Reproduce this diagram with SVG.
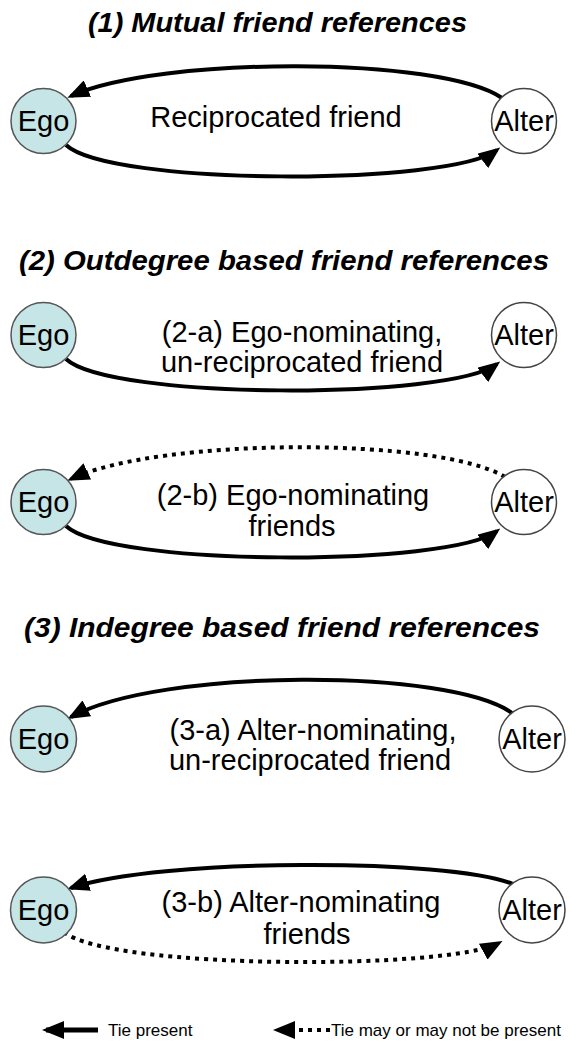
<svg xmlns="http://www.w3.org/2000/svg" width="581" height="1050" viewBox="0 0 581 1050">
<defs>
<style>
.title{font-family:"Liberation Sans",Arial,sans-serif;font-weight:bold;font-style:italic;font-size:27px;fill:#000}
.lbl{font-family:"Liberation Sans",Arial,sans-serif;font-size:29px;fill:#000;text-anchor:middle}
.nt{font-family:"Liberation Sans",Arial,sans-serif;font-size:29px;fill:#000;text-anchor:middle}
.leg{font-family:"Liberation Sans",Arial,sans-serif;font-size:17px;fill:#000}
.ego{fill:#c6e5e6;stroke:#555;stroke-width:1.5}
.alter{fill:#fff;stroke:#444;stroke-width:1.5}
.solid{fill:none;stroke:#000;stroke-width:4;marker-end:url(#ah)}
.dot{fill:none;stroke:#000;stroke-width:4;stroke-dasharray:4 5;marker-end:url(#ah)}
</style>
<marker id="ah" viewBox="0 0 22 18" refX="18" refY="9" markerWidth="22" markerHeight="18" markerUnits="userSpaceOnUse" orient="auto">
<path d="M0,0 L22,9 L0,18 z" fill="#000" stroke="none"/>
</marker>
</defs>
<rect width="581" height="1050" fill="#fff"/>

<g id="titles">
<text class="title" x="88" y="32" textLength="379" lengthAdjust="spacingAndGlyphs">(1) Mutual friend references</text>
<text class="title" x="19" y="270" textLength="530" lengthAdjust="spacingAndGlyphs">(2) Outdegree based friend references</text>
<text class="title" x="24" y="637" textLength="516" lengthAdjust="spacingAndGlyphs">(3) Indegree based friend references</text>
</g>

<g id="connectors">
<path class="solid" d="M 502 98 C 440 56, 160 56, 71 96"/>
<path class="solid" d="M 66 145 C 110 186, 450 186, 497 150"/>
<path class="solid" d="M 66 359 C 110 400, 450 400, 497 364"/>
<path class="dot" d="M 505 477 C 440 437, 160 437, 71 479"/>
<path class="solid" d="M 66 526 C 110 567, 450 567, 497 531"/>
<path class="solid" d="M 512 713 C 450 668, 160 668, 71 717"/>
<path class="solid" d="M 513 884 C 450 858, 160 858, 71 888"/>
<path class="dot" d="M 64 932 C 110 970, 450 970, 499 943"/>
</g>

<g id="labels">
<text class="lbl" x="276" y="127">Reciprocated friend</text>
<text class="lbl" x="302" y="342">(2-a) Ego-nominating,</text>
<text class="lbl" x="302" y="372">un-reciprocated friend</text>
<text class="lbl" x="293" y="505">(2-b) Ego-nominating</text>
<text class="lbl" x="292" y="536">friends</text>
<text class="lbl" x="313" y="740">(3-a) Alter-nominating,</text>
<text class="lbl" x="310" y="770">un-reciprocated friend</text>
<text class="lbl" x="301" y="912">(3-b) Alter-nominating</text>
<text class="lbl" x="307" y="944">friends</text>
</g>

<g id="ego1"><circle class="ego" cx="43.5" cy="121" r="32.5"/><text class="nt" x="43.5" y="131">Ego</text></g>
<g id="alter1"><circle class="alter" cx="524" cy="121" r="32.5"/><text class="nt" x="524" y="131">Alter</text></g>
<g id="ego2a"><circle class="ego" cx="43.5" cy="335" r="32.5"/><text class="nt" x="43.5" y="345">Ego</text></g>
<g id="alter2a"><circle class="alter" cx="524" cy="335" r="32.5"/><text class="nt" x="524" y="345">Alter</text></g>
<g id="ego2b"><circle class="ego" cx="43.5" cy="502" r="32.5"/><text class="nt" x="43.5" y="512">Ego</text></g>
<g id="alter2b"><circle class="alter" cx="524" cy="502" r="32.5"/><text class="nt" x="524" y="512">Alter</text></g>
<g id="ego3a"><circle class="ego" cx="43.5" cy="739" r="33"/><text class="nt" x="43.5" y="749">Ego</text></g>
<g id="alter3a"><circle class="alter" cx="532" cy="739" r="33"/><text class="nt" x="532" y="749">Alter</text></g>
<g id="ego3b"><circle class="ego" cx="43.5" cy="910" r="33"/><text class="nt" x="43.5" y="920">Ego</text></g>
<g id="alter3b"><circle class="alter" cx="532" cy="910" r="33"/><text class="nt" x="532" y="920">Alter</text></g>

<g id="legend">
<path d="M 98 1030 L 46 1030" fill="none" stroke="#000" stroke-width="5" marker-end="url(#ah)"/>
<text class="leg" x="108" y="1036">Tie present</text>
<path d="M 330 1030 L 277 1030" fill="none" stroke="#000" stroke-width="4" stroke-dasharray="4 5" marker-end="url(#ah)"/>
<text class="leg" x="331" y="1036">Tie may or may not be present</text>
</g>
</svg>
